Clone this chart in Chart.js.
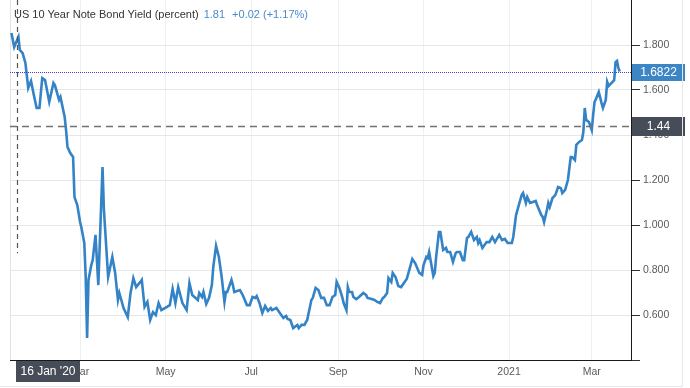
<!DOCTYPE html>
<html>
<head>
<meta charset="utf-8">
<script src="https://cdn.jsdelivr.net/npm/chart.js@4.4.1/dist/chart.umd.min.js"></script>
<style>
html, body { margin: 0; padding: 0; background: #fff; }
#wrap { position: relative; width: 690px; height: 388px; overflow: hidden; }
#frame { position: absolute; left: 0; top: 0; width: 682px; height: 386px; border-right: 1px solid #e4e6e9; border-bottom: 1px solid #e4e6e9; pointer-events: none; }
#title { position: absolute; left: 14px; top: 8px; font: 11px "Liberation Sans", Arial, sans-serif; color: #333; white-space: nowrap; }
#title .val { color: #4a89cf; margin-left: 5px; }
#title .chg { color: #4a89cf; margin-left: 7px; }
</style>
</head>
<body>
<div id="wrap">
  <div id="frame"></div>
  <canvas id="chart" width="690" height="388"></canvas>
  <div id="title">US 10 Year Note Bond Yield (percent)<span class="val">1.81</span><span class="chg">+0.02 (+1.17%)</span></div>
</div>
<script>
// US 10Y yield
const dates = [
  '2020-01-12','2020-01-14','2020-01-17','2020-01-18','2020-01-20','2020-01-22','2020-01-24','2020-01-26','2020-01-28','2020-01-30',
  '2020-02-01','2020-02-03','2020-02-05','2020-02-08','2020-02-11','2020-02-12','2020-02-15','2020-02-16','2020-02-19','2020-02-20',
  '2020-02-21','2020-02-23','2020-02-25','2020-02-26','2020-02-28',
  '2020-03-01','2020-03-02','2020-03-04','2020-03-05','2020-03-06','2020-03-07','2020-03-09','2020-03-10','2020-03-12','2020-03-14',
  '2020-03-17','2020-03-18','2020-03-21','2020-03-24','2020-03-26','2020-03-28','2020-03-29',
  '2020-04-01','2020-04-04','2020-04-06','2020-04-08','2020-04-10','2020-04-13','2020-04-14','2020-04-16','2020-04-18','2020-04-20',
  '2020-04-22','2020-04-24','2020-04-26','2020-04-28',
  '2020-05-02','2020-05-04','2020-05-06','2020-05-08','2020-05-10','2020-05-13','2020-05-16','2020-05-18','2020-05-20','2020-05-24',
  '2020-05-25','2020-05-27','2020-05-28','2020-05-30',
  '2020-06-01','2020-06-03','2020-06-04','2020-06-06','2020-06-08','2020-06-10','2020-06-12','2020-06-13','2020-06-14','2020-06-17',
  '2020-06-18','2020-06-19','2020-06-23','2020-06-25','2020-06-28','2020-06-30',
  '2020-07-02','2020-07-04','2020-07-05','2020-07-07','2020-07-09','2020-07-11','2020-07-13','2020-07-15','2020-07-16','2020-07-19',
  '2020-07-21','2020-07-24','2020-07-26','2020-07-27','2020-07-29','2020-07-31',
  '2020-08-03','2020-08-04','2020-08-06','2020-08-08','2020-08-10','2020-08-13','2020-08-14','2020-08-16','2020-08-18','2020-08-20',
  '2020-08-22','2020-08-24','2020-08-26','2020-08-28','2020-08-30','2020-08-31',
  '2020-09-02','2020-09-04','2020-09-05','2020-09-07','2020-09-08','2020-09-09','2020-09-11','2020-09-12','2020-09-14','2020-09-16',
  '2020-09-19','2020-09-21','2020-09-22','2020-09-25','2020-09-27','2020-09-29',
  '2020-10-01','2020-10-03','2020-10-04','2020-10-06','2020-10-07','2020-10-09','2020-10-10','2020-10-12','2020-10-14','2020-10-16',
  '2020-10-18','2020-10-20','2020-10-22','2020-10-24','2020-10-26','2020-10-29','2020-10-31',
  '2020-11-01','2020-11-03','2020-11-04','2020-11-05','2020-11-08','2020-11-09','2020-11-10','2020-11-12','2020-11-13','2020-11-15',
  '2020-11-17','2020-11-18','2020-11-20','2020-11-22','2020-11-24','2020-11-25','2020-11-27','2020-11-29','2020-11-30',
  '2020-12-02','2020-12-03','2020-12-05','2020-12-07','2020-12-09','2020-12-10','2020-12-11','2020-12-13','2020-12-16','2020-12-18',
  '2020-12-20','2020-12-22','2020-12-25','2020-12-27','2020-12-29','2020-12-31',
  '2021-01-03','2021-01-04','2021-01-06','2021-01-08','2021-01-10','2021-01-11','2021-01-13','2021-01-14','2021-01-16','2021-01-18',
  '2021-01-20','2021-01-21','2021-01-24','2021-01-25','2021-01-26','2021-01-28','2021-01-29','2021-01-30',
  '2021-02-01','2021-02-03','2021-02-05','2021-02-07','2021-02-08','2021-02-10','2021-02-12','2021-02-14','2021-02-15','2021-02-17',
  '2021-02-18','2021-02-20','2021-02-22','2021-02-23','2021-02-24','2021-02-25','2021-02-27',
  '2021-03-01','2021-03-02','2021-03-03','2021-03-04','2021-03-06','2021-03-08','2021-03-09','2021-03-11','2021-03-12','2021-03-13',
  '2021-03-15','2021-03-17','2021-03-18','2021-03-19','2021-03-20','2021-03-21'
]
const yields = [
  1.853,1.791,1.836,1.778,1.764,1.720,1.609,1.640,1.578,1.520,
  1.520,1.653,1.644,1.547,1.631,1.622,1.556,1.569,1.480,1.422,
  1.347,1.320,1.302,1.124,1.089,
  1.013,0.987,0.920,0.769,0.498,0.756,0.822,0.844,0.956,0.733,
  1.258,1.067,0.769,0.858,0.787,0.667,0.698,
  0.631,0.591,0.698,0.764,0.724,0.747,0.756,0.636,0.658,0.578,
  0.613,0.600,0.653,0.622,
  0.636,0.644,0.716,0.653,0.724,0.653,0.622,0.742,0.689,0.667,
  0.698,0.680,0.702,0.649,
  0.676,0.733,0.813,0.907,0.858,0.769,0.658,0.702,0.702,0.756,
  0.733,0.702,0.711,0.689,0.644,0.644,
  0.680,0.676,0.684,0.653,0.609,0.640,0.618,0.631,0.622,0.631,
  0.613,0.587,0.596,0.582,0.578,0.542,
  0.556,0.542,0.556,0.556,0.578,0.667,0.676,0.720,0.711,0.676,
  0.676,0.644,0.644,0.680,0.689,0.747,
  0.720,0.680,0.653,0.622,0.724,0.702,0.702,0.680,0.671,0.680,
  0.698,0.689,0.676,0.671,0.667,0.658,
  0.653,0.676,0.680,0.698,0.764,0.747,0.787,0.769,0.729,0.724,
  0.742,0.760,0.804,0.849,0.831,0.787,0.778,
  0.822,0.858,0.853,0.880,0.773,0.787,0.858,0.969,0.969,0.889,
  0.898,0.880,0.880,0.836,0.876,0.880,0.880,0.844,0.844,
  0.942,0.947,0.969,0.933,0.947,0.920,0.933,0.898,0.924,0.924,
  0.947,0.924,0.956,0.933,0.938,0.920,
  0.920,0.947,1.044,1.089,1.133,1.142,1.098,1.124,1.098,1.102,
  1.107,1.089,1.044,1.036,1.013,1.067,1.098,1.080,
  1.120,1.133,1.169,1.164,1.142,1.156,1.200,1.302,1.302,1.289,
  1.356,1.369,1.378,1.413,1.520,1.467,1.458,
  1.422,1.489,1.547,1.560,1.591,1.542,1.520,1.556,1.636,1.618,
  1.631,1.644,1.724,1.729,1.698,1.6822
]

const xStart = '2020-01-11'
const xEnd = '2021-03-29'
const monthTicks = ['2020-03-01','2020-05-01','2020-07-01','2020-09-01','2020-11-01','2021-01-01','2021-03-01']
const monthLabels = ['Mar','May','Jul','Sep','Nov','2021','Mar']
const yTicks = [0.4, 0.6, 0.8, 1.0, 1.2, 1.4, 1.6, 1.8]

const crossDate = '2020-01-16'
const crossValue = 1.44
const crossLineEnd = 0.875
const lastValue = yields[yields.length - 1]

const FONT = '"Liberation Sans", Arial, sans-serif'
const MONTHS = ['Jan','Feb','Mar','Apr','May','Jun','Jul','Aug','Sep','Oct','Nov','Dec']

function day(s) {
	const p = s.split('-')
	return Date.UTC(+p[0], +p[1] - 1, +p[2]) / 86400000
}

function tag(ctx, text, left, top, w, h, bg) {
	ctx.fillStyle = bg
	ctx.fillRect(left, top, w, h)
	ctx.fillStyle = '#fff'
	ctx.font = '12px ' + FONT
	ctx.textAlign = 'center'
	ctx.textBaseline = 'middle'
	ctx.fillText(text, left + w / 2, top + h / 2 + 0.5)
}

function hline(ctx, x1, x2, yy) {
	ctx.beginPath()
	ctx.moveTo(x1, yy)
	ctx.lineTo(x2, yy)
	ctx.stroke()
}

const overlay = {
	id: 'overlay',
	beforeDatasetsDraw(chart) {
		const {ctx, chartArea: a} = chart
		ctx.save()
		ctx.strokeStyle = '#e3e3e3'
		ctx.lineWidth = 1
		ctx.beginPath()
		ctx.moveTo(a.left + 0.5, a.top)
		ctx.lineTo(a.left + 0.5, a.bottom)
		ctx.stroke()
		ctx.restore()
	},
	afterDatasetsDraw(chart) {
		const {ctx, chartArea: a, scales: {x, y}} = chart
		ctx.save()
		// last price line
		const ly = Math.round(y.getPixelForValue(lastValue)) + 0.5
		ctx.strokeStyle = '#3c3cdc'
		ctx.lineWidth = 1
		ctx.setLineDash([1, 1])
		hline(ctx, a.left, a.right, ly)
		// crosshair
		const cy = Math.round(y.getPixelForValue(crossValue)) + 0.5
		ctx.strokeStyle = '#727272'
		ctx.lineWidth = 1.6
		ctx.setLineDash([7, 5])
		hline(ctx, a.left, a.right, cy)
		const cx = Math.round(x.getPixelForValue(day(crossDate))) + 0.5
		ctx.strokeStyle = '#555'
		ctx.lineWidth = 1.2
		ctx.setLineDash([5, 4])
		ctx.beginPath()
		ctx.moveTo(cx, 0)
		ctx.lineTo(cx, y.getPixelForValue(crossLineEnd))
		ctx.stroke()
		ctx.restore()
	},
	afterDraw(chart) {
		const {ctx, chartArea: a, scales: {x, y}} = chart
		ctx.save()
		const ly = Math.round(y.getPixelForValue(lastValue))
		tag(ctx, lastValue.toFixed(4), a.right + 1, ly - 8, 53, 17, '#3d86c6')
		const cy = Math.round(y.getPixelForValue(crossValue))
		tag(ctx, String(crossValue), a.right + 1, cy - 9, 53, 19, '#474d58')
		const cx = Math.round(x.getPixelForValue(day(crossDate)))
		const p = crossDate.split('-')
		const label = (+p[2]) + ' ' + MONTHS[+p[1] - 1] + " '" + p[0].slice(2)
		tag(ctx, label, cx - 1, a.bottom + 1, 64, 21, '#474d58')
		ctx.restore()
	}
}

Chart.defaults.font.family = FONT

const chart = new Chart(document.getElementById('chart'), {
	type: 'line',
	data: {
		datasets: [{
			label: 'US 10Y',
			data: dates.map((d, i) => ({x: day(d), y: yields[i]})),
			borderColor: '#3483c6',
			borderWidth: 2.6,
			pointRadius: 0,
			tension: 0,
			fill: false
		}]
	},
	options: {
		responsive: false,
		animation: false,
		events: [],
		layout: {padding: {left: 10, top: 0, right: 0, bottom: 0}},
		plugins: {legend: {display: false}, tooltip: {enabled: false}, title: {display: false}},
		scales: {
			x: {
				type: 'linear',
				min: day(xStart),
				max: day(xEnd),
				afterBuildTicks: s => { s.ticks = monthTicks.map(m => ({value: day(m)})) },
				afterFit: s => { s.height = 28; s.paddingLeft = 0; s.paddingRight = 0 },
				grid: {color: '#ecf1f4', lineWidth: 1, drawTicks: false},
				border: {display: true, color: '#1a1a1a', width: 1},
				ticks: {
					autoSkip: false, maxRotation: 0, padding: 6,
					color: '#5a5a5a', font: {size: 10.5},
					callback: (v, i) => monthLabels[i]
				}
			},
			y: {
				position: 'right',
				min: 0.4,
				max: 2.0,
				afterBuildTicks: s => { s.ticks = yTicks.map(v => ({value: v})) },
				afterFit: s => { s.width = 59; s.paddingTop = 0; s.paddingBottom = 0 },
				grid: {color: '#e6e6e6', lineWidth: 1, tickColor: '#333', tickLength: 9},
				border: {display: true, color: '#1a1a1a', width: 1},
				ticks: {
					padding: 3, color: '#5a5a5a', font: {size: 10.5},
					callback: (v, i) => i === 0 ? '' : yTicks[i].toFixed(3)
				}
			}
		}
	},
	plugins: [overlay]
})
</script>
</body>
</html>
